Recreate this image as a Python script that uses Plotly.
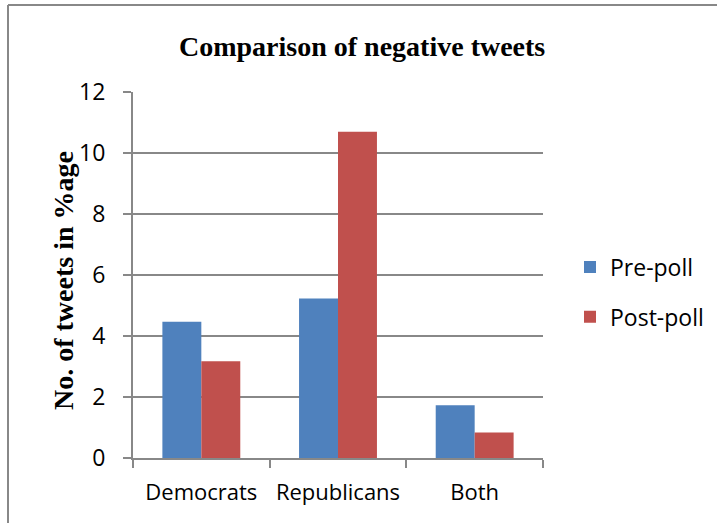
import plotly.graph_objects as go

# Share of negative tweets (%) per party group, before and after the poll
categories = ["Democrats", "Republicans", "Both"]
pre_poll = [4.47, 5.23, 1.73]
post_poll = [3.17, 10.7, 0.84]
y_ticks = [0, 2, 4, 6, 8, 10, 12]

blue = "#4F81BD"
red = "#C0504D"
grid = "#888888"
label_font = dict(family="Open Sans, Noto Sans, sans-serif", size=23, color="#000000")
x_font = dict(family="Open Sans, Noto Sans, sans-serif", size=22, color="#000000")
serif_bold = dict(family="Liberation Serif, Times New Roman, serif", size=28, color="#000000")

fig = go.Figure()
fig.add_trace(go.Bar(x=categories, y=pre_poll, name="Pre-poll",
                     marker=dict(color=blue, line=dict(width=0)), legendgroup="a"))
fig.add_trace(go.Bar(x=categories, y=post_poll, name="Post-poll",
                     marker=dict(color=red, line=dict(width=0)), legendgroup="b"))

fig.update_layout(
    width=717, height=523,
    margin=dict(l=133, r=174, t=92, b=65, autoexpand=False),
    paper_bgcolor="white", plot_bgcolor="white",
    barmode="group", bargap=0.43, bargroupgap=0,
    font=label_font,
    showlegend=True,
    legend=dict(x=(570 - 133) / 410, xanchor="left", y=(458 - 292) / 366, yanchor="middle",
                font=label_font, tracegroupgap=17, bgcolor="rgba(0,0,0,0)",
                itemwidth=30, traceorder="grouped"),
    xaxis=dict(showline=True, linecolor=grid, linewidth=2,
               ticks="outside", tickson="boundaries", ticklen=8,
               tickcolor=grid, tickwidth=2, tickfont=x_font, tickangle=0,
               showgrid=False, ticklabelstandoff=14),
    yaxis=dict(range=[0, 12], tickvals=y_ticks, showline=True,
               linecolor=grid, linewidth=2, ticks="outside", ticklen=8,
               tickcolor=grid, tickwidth=2, showgrid=True, gridcolor=grid,
               gridwidth=2, zeroline=False, tickfont=label_font,
               ticklabelstandoff=13),
    annotations=[
        dict(text="<b>Comparison of negative tweets</b>", xref="paper", yref="paper",
             x=(362 - 133) / 410, y=(458 - 47) / 366, xanchor="center", yanchor="middle",
             showarrow=False, font=serif_bold),
        dict(text="<b>No. of tweets in %age</b>", xref="paper", yref="paper",
             x=(63 - 133) / 410, y=(458 - 281) / 366, xanchor="center", yanchor="middle",
             textangle=-90, showarrow=False, font=serif_bold),
    ],
    shapes=[
        # outer chart border (top and left edges)
        dict(type="line", xref="paper", yref="paper",
             x0=(8 - 133) / 410, x1=(730 - 133) / 410,
             y0=(458 - 5) / 366, y1=(458 - 5) / 366,
             line=dict(color=grid, width=2)),
        dict(type="line", xref="paper", yref="paper",
             x0=(8 - 133) / 410, x1=(8 - 133) / 410,
             y0=(458 - 5) / 366, y1=(458 - 540) / 366,
             line=dict(color=grid, width=2)),
    ],
)

fig.write_html("out.html")
